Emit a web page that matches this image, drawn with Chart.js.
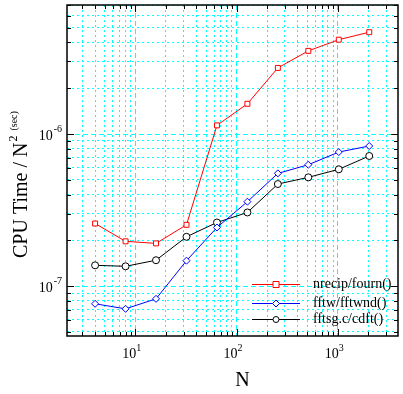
<!DOCTYPE html>
<html>
<head>
<meta charset="utf-8">
<script src="https://cdn.jsdelivr.net/npm/chart.js@4"></script>
<style>
  html, body { margin: 0; padding: 0; background: #fff; }
  #wrap { width: 403px; height: 394px; }
</style>
</head>
<body>
<div id="wrap"><canvas id="grafico"></canvas></div>
<script>
const ctx = document.getElementById('grafico');

// datos
const tamanos = [4, 8, 16, 32, 64, 128, 256, 512, 1024, 2048];
const nrecip = [2.58e-7, 1.97e-7, 1.91e-7, 2.53e-7, 1.14e-6, 1.58e-6, 2.72e-6, 3.52e-6, 4.17e-6, 4.67e-6];
const fftw = [7.65e-8, 7.09e-8, 8.25e-8, 1.47e-7, 2.43e-7, 3.59e-7, 5.51e-7, 6.28e-7, 7.61e-7, 8.34e-7];
const fftsg = [1.37e-7, 1.35e-7, 1.48e-7, 2.11e-7, 2.62e-7, 3.05e-7, 4.69e-7, 5.19e-7, 5.86e-7, 7.17e-7];
const etiquetas = ['nrecip/fourn()', 'fftw/fftwnd()', 'fftsg.c/cdft()'];
const xTicks = [3, 4, 5, 6, 7, 8, 9, 10, 20, 30, 40, 50, 60, 70, 80, 90,
  100, 200, 300, 400, 500, 600, 700, 800, 900, 1000, 2000, 3000];
const yTicks = [5e-8, 6e-8, 7e-8, 8e-8, 9e-8, 1e-7, 2e-7, 3e-7, 4e-7, 5e-7, 6e-7, 7e-7, 8e-7, 9e-7,
  1e-6, 2e-6, 3e-6, 4e-6, 5e-6, 6e-6, 7e-6];
const xDecadas = [[10, '1'], [100, '2'], [1000, '3']];
const yDecadas = [[1e-6, '-6'], [1e-7, '-7']];

const SERIF = '"Liberation Serif", "DejaVu Serif", serif';
const CIAN = '#00ffff';

function esDecada(v) {
  const l = Math.log10(v);
  return Math.abs(l - Math.round(l)) < 1e-6;
}

function serie(label, data, color, estilo) {
  return {
    label: label,
    data: tamanos.map((n, i) => ({x: n, y: data[i]})),
    borderColor: color,
    backgroundColor: color,
    borderWidth: 1,
    pointStyle: estilo,
    pointRadius: 3.5,
    pointBorderWidth: 1,
    pointBorderColor: color,
    pointBackgroundColor: '#fff',
    tension: 0
  };
}

const colores = ['#ff0000', '#0000ff', '#000000'];
const estilos = ['rect', 'rectRot', 'circle'];

const marco = {
  id: 'marco',
  afterDraw(chart) {
    const c = chart.ctx;
    const a = chart.chartArea;
    const xs = chart.scales.x;
    const ys = chart.scales.y;
    c.save();
    // ticks interiores
    c.strokeStyle = '#000';
    c.lineWidth = 1;
    c.beginPath();
    xTicks.forEach(v => {
      const px = Math.round(xs.getPixelForValue(v)) + 0.5;
      const l = esDecada(v) ? 7 : 4;
      c.moveTo(px, a.bottom); c.lineTo(px, a.bottom - l);
      c.moveTo(px, a.top); c.lineTo(px, a.top + l);
    });
    yTicks.forEach(v => {
      const py = Math.round(ys.getPixelForValue(v)) + 0.5;
      const l = esDecada(v) ? 7 : 4;
      c.moveTo(a.left, py); c.lineTo(a.left + l, py);
      c.moveTo(a.right, py); c.lineTo(a.right - l, py);
    });
    c.stroke();
    c.lineWidth = 1.5;
    c.strokeRect(a.left, a.top, a.right - a.left, a.bottom - a.top);

    // etiquetas de los ejes
    c.fillStyle = '#000';
    c.textBaseline = 'alphabetic';
    xDecadas.forEach(([v, e]) => {
      const px = xs.getPixelForValue(v);
      c.font = '14px ' + SERIF;
      c.textAlign = 'right';
      c.fillText('10', px + 1, a.bottom + 22);
      c.font = '10px ' + SERIF;
      c.textAlign = 'left';
      c.fillText(e, px + 1, a.bottom + 15);
    });
    yDecadas.forEach(([v, e]) => {
      const py = ys.getPixelForValue(v);
      c.font = '10px ' + SERIF;
      c.textAlign = 'right';
      c.fillText(e, a.left - 5, py - 2);
      const w = c.measureText(e).width;
      c.font = '14px ' + SERIF;
      c.fillText('10', a.left - 5 - w - 1, py + 6);
    });

    // titulo eje x
    c.font = '20px ' + SERIF;
    c.textAlign = 'center';
    c.fillText('N', (a.left + a.right) / 2 + 10, 386);

    // titulo eje y
    c.save();
    c.translate(27, 258);
    c.rotate(-Math.PI / 2);
    c.textAlign = 'left';
    c.font = '20px ' + SERIF;
    const t1 = 'CPU Time / N';
    c.fillText(t1, 0, 0);
    let x0 = c.measureText(t1).width + 1;
    c.font = '12px ' + SERIF;
    c.fillText('2', x0, -10);
    x0 += c.measureText('2').width + 5;
    c.font = '10px ' + SERIF;
    c.fillText('(sec)', x0, -10);
    c.restore();

    // leyenda
    const filas = [284, 303, 319];
    chart.data.datasets.forEach((ds, i) => {
      const y = filas[i] + 0.5;
      c.strokeStyle = ds.borderColor;
      c.lineWidth = 1;
      c.beginPath();
      c.moveTo(252, y); c.lineTo(300, y);
      c.stroke();
      c.fillStyle = '#fff';
      c.beginPath();
      if (ds.pointStyle === 'rect') {
        c.rect(273, y - 3, 6, 6);
      } else if (ds.pointStyle === 'rectRot') {
        c.moveTo(276, y - 3.5); c.lineTo(279.5, y); c.lineTo(276, y + 3.5); c.lineTo(272.5, y); c.closePath();
      } else {
        c.arc(276, y, 3, 0, Math.PI * 2);
      }
      c.fill();
      c.stroke();
      c.fillStyle = '#000';
      c.font = '14px ' + SERIF;
      c.textAlign = 'left';
      c.textBaseline = 'middle';
      c.fillText(ds.label, 313, y);
    });
    c.restore();
  }
};

new Chart(ctx, {
  type: 'line',
  data: {
    datasets: etiquetas.map((l, i) => serie(l, [nrecip, fftw, fftsg][i], colores[i], estilos[i]))
  },
  options: {
    responsive: true,
    maintainAspectRatio: false,
    animation: false,
    layout: { padding: { top: 5, right: 4, left: 0, bottom: 0 } },
    plugins: {
      legend: { display: false },
      tooltip: { enabled: false }
    },
    scales: {
      x: {
        type: 'logarithmic',
        min: 2.11,
        max: 3940,
        afterBuildTicks: s => { s.ticks = xTicks.map(v => ({value: v})); },
        afterFit: s => { s.height = 58; },
        ticks: { display: false },
        border: {
          display: false,
          dash: c => (c.tick && esDecada(c.tick.value)) ? [5, 3] : [2, 3]
        },
        grid: { color: CIAN, lineWidth: 1, drawTicks: false }
      },
      y: {
        type: 'logarithmic',
        min: 4.7e-8,
        max: 7.05e-6,
        afterBuildTicks: s => { s.ticks = yTicks.map(v => ({value: v})); },
        afterFit: s => { s.width = 67; },
        ticks: { display: false },
        border: {
          display: false,
          dash: c => (c.tick && esDecada(c.tick.value)) ? [5, 3] : [2, 3]
        },
        grid: { color: CIAN, lineWidth: 1, drawTicks: false }
      }
    }
  },
  plugins: [marco]
});
</script>
</body>
</html>
